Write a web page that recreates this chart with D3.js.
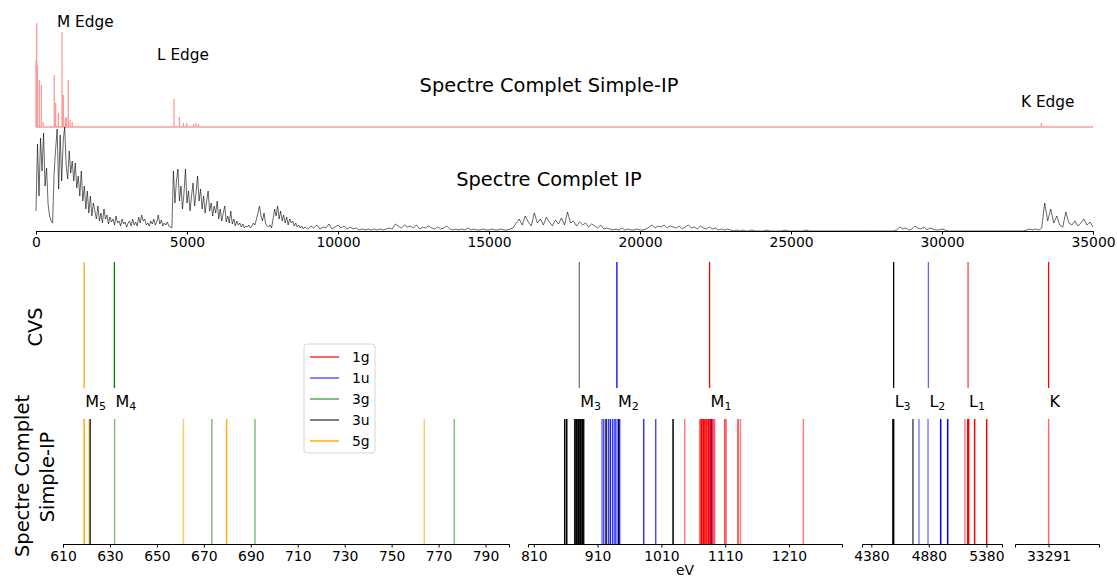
<!DOCTYPE html>
<html>
<head>
<meta charset="utf-8">
<script src="https://cdn.jsdelivr.net/npm/d3@7"></script>
<style>
  body { margin: 0; background: #fff; }
  text { font-family: "DejaVu Sans", sans-serif; fill: #000; }
  .axis text { font-family: "DejaVu Sans", sans-serif; font-size: 13.9px; }
  .axis path, .axis line { stroke: #000; stroke-width: 1; }
</style>
</head>
<body>
<svg id="chart" width="1117" height="579"></svg>
<script>
// ---- top spectra ----
var topTicks = [0, 5000, 10000, 15000, 20000, 25000, 30000, 35000];

// Simple-IP : sticks (eV, intensity)
var sipSpecEnergy = [0, 23, 45, 110, 175, 235, 605, 650, 740, 860, 905, 970, 1010, 1070, 1130, 1200,
                     4570, 4750, 4880, 4990, 5220, 5290, 5380, 33290];
var sipSpecHeight = [67, 104, 62, 47, 42, 5, 52, 24, 14, 95, 32, 9, 10, 47, 7, 5,
                     28, 10, 4, 4, 3, 4, 3, 4];

// IP spectrum, 0 -> 8950 eV every 50 eV
var ipDenseStart = 0, ipDenseStep = 50;
var ipDense = [
  20, 87, 35, 93, 60, 98, 45, 63, 27, 15,
  10, 8, 58, 82, 102, 42, 96, 50, 90, 104,
  65, 52, 80, 58, 70, 50, 68, 43, 55, 35,
  60, 30, 45, 22, 40, 18, 35, 15, 28, 20,
  12, 25, 10, 18, 8, 22, 12, 16, 7, 14,
  9, 12, 6, 15, 8, 10, 5, 12, 7, 9,
  4, 8, 10, 5, 12, 6, 9, 5, 14, 8,
  16, 10, 12, 6, 8, 5, 10, 7, 12, 6,
  9, 16, 7, 11, 5, 8, 6, 9, 5, 4,
  3, 60, 28, 50, 62, 30, 45, 22, 38, 62,
  28, 40, 20, 35, 48, 25, 38, 55, 30, 42,
  22, 35, 18, 30, 40, 20, 28, 15, 25, 18,
  30, 12, 22, 10, 18, 25, 9, 15, 8, 20,
  7, 12, 5, 10, 6, 8, 4, 7, 3, 5,
  4, 6, 3, 5, 8, 6, 12, 18, 25, 15,
  10, 18, 8, 5, 4, 6, 3, 12, 22, 15,
  25, 12, 20, 10, 16, 8, 14, 6, 12, 8,
  10, 5, 8, 4, 6, 3, 5, 2, 4, 3
];
// IP spectrum, 9000 -> 35000 eV every 100 eV
var ipSparseStart = 9000, ipSparseStep = 100;
var ipSparse = [
  2, 5, 3, 6, 2, 4, 3, 7, 2, 4,
  6, 3, 5, 2, 4, 2, 3, 1, 2, 1,
  2, 1, 2, 1, 2, 1, 2, 3, 2, 7,
  5, 3, 6, 4, 5, 3, 6, 2, 4, 3,
  5, 3, 2, 4, 2, 3, 5, 2, 1, 2,
  1, 2, 1, 3, 1, 2, 1, 1, 2, 1,
  1, 2, 1, 1, 2, 1, 1, 2, 3, 8,
  12, 6, 15, 9, 5, 18, 8, 12, 6, 14,
  9, 5, 11, 7, 13, 6, 19, 8, 10, 5,
  9, 6, 8, 4, 7, 5, 3, 6, 2, 3,
  2, 1, 2, 1, 3, 1, 2, 1, 1, 2,
  1, 1, 2, 4, 6, 3, 5, 4, 6, 3,
  5, 4, 3, 5, 2, 4, 6, 3, 4, 2,
  5, 3, 2, 4, 2, 3, 1, 2, 1, 2,
  1, 0, 1, 0, 1, 0, 0, 1, 0, 0,
  0, 0, 1, 0, 0, 0, 0, 0, 1, 0,
  0, 0, 0, 0, 0, 1, 0, 0, 0, 0,
  0, 0, 0, 0, 0, 0, 0, 0, 0, 0,
  0, 0, 0, 0, 0, 0, 0, 0, 0, 0,
  0, 0, 0, 0, 0, 1, 4, 2, 3, 1,
  2, 5, 3, 2, 4, 1, 3, 2, 1, 1,
  2, 1, 0, 0, 0, 0, 0, 0, 0, 0,
  0, 0, 0, 0, 0, 0, 0, 0, 0, 0,
  0, 0, 0, 0, 0, 0, 0, 0, 1, 2,
  1, 2, 1, 3, 28, 10, 22, 8, 15, 6,
  4, 19, 8, 6, 10, 5, 8, 12, 6, 9,
  4
];

// ---- lower panels: transitions ----
var symmetries = ["1g", "1u", "3g", "3u", "5g"];

var cvsEnergy = [619.0, 631.9, 881.4, 940.3, 1085.5, 4574, 4876, 5221, 33291];
var cvsSym    = ["5g", "3g", "3u", "1u", "1g", "3u", "1u", "1g", "1g"];
var cvsWeight = [1, 1, 0.55, 1, 1, 1, 0.6, 0.75, 1];
var edgeMain  = ["M", "M", "M", "M", "M", "L", "L", "L", "K"];
var edgeSub   = ["5", "4", "3", "2", "1", "3", "2", "1", ""];

var lineEnergy = [
  619.0, 621.1, 621.6, 632.0, 661.3, 673.4, 679.7, 691.8, 763.9, 776.7,
  858.6, 861.7, 874.2, 875.8, 877.4, 879.0, 880.5, 882.1, 883.7, 885.2, 886.8, 888.3,
  917.0, 919.7, 923.3, 927.0, 930.1, 933.8, 937.4, 940.5, 943.2, 944.7, 982.3, 1001.1, 1028.3,
  1046.6, 1070.6, 1072.7, 1074.2, 1076.3, 1077.9, 1080.0, 1081.5, 1083.6, 1085.2, 1087.3,
  1088.8, 1089.4, 1092.0, 1093.5, 1109.2, 1111.3, 1130.1, 1133.8, 1232.5,
  4568, 4574, 4742, 4794, 4873, 4983, 5044, 5194, 5218, 5226, 5278, 5383,
  33291
];
var lineSym = [
  "5g", "5g", "3u", "3g", "5g", "3g", "5g", "3g", "5g", "3g",
  "3u", "3u", "3u", "3u", "3u", "3u", "3u", "3u", "3u", "3u", "3u", "3u",
  "1u", "1u", "3u", "1u", "1u", "1u", "1u", "1u", "3u", "1u", "1u", "1u", "3u",
  "1g", "1g", "1g", "1g", "1g", "1g", "1g", "1g", "1g", "1g", "1g",
  "1u", "1g", "1g", "1g", "1g", "1g", "1g", "1g", "1g",
  "3u", "3u", "3u", "1u", "1u", "1u", "1u", "1g", "1g", "1g", "1g", "1g",
  "1g"
];
var lineWeight = [
  1, 0.6, 0.8, 0.5, 0.6, 0.5, 0.9, 0.5, 0.6, 0.5,
  1, 1, 0.9, 0.8, 1, 0.7, 1, 0.8, 1, 0.7, 1, 0.9,
  0.6, 0.7, 1, 0.8, 0.9, 0.8, 0.9, 0.6, 1, 0.7, 0.8, 0.7, 1,
  0.5, 0.8, 1, 0.7, 1, 0.8, 1, 0.7, 1, 0.8, 1,
  1, 0.8, 0.6, 0.5, 0.7, 0.6, 0.8, 0.5, 0.5,
  1, 1, 0.7, 0.5, 0.5, 1, 1, 0.5, 1, 1, 1, 1,
  0.6
];

var panelDomains = [[610, 800], [801, 1293], [4299, 5516], [33191, 33441]];
var panelTicks = [
  [610, 630, 650, 670, 690, 710, 730, 750, 770, 790],
  [810, 910, 1010, 1110, 1210],
  [4380, 4880, 5380],
  [33291]
];

// ---------------------------------------------------------------
var svg = d3.select("#chart");

var color = d3.scaleOrdinal().domain(symmetries)
    .range(["red", "blue", "green", "black", "orange"]);

// top plot
var xTop = d3.scaleLinear().domain([0, 35000]).range([36, 1093]);
var yRed = d3.scaleLinear().domain([0, 106]).range([127, 21]);
var yIP  = d3.scaleLinear().domain([0, 106]).range([231, 125]);

var ipPts = [];
ipDense.forEach(function(v, i) { ipPts.push([ipDenseStart + i * ipDenseStep, v]); });
ipSparse.forEach(function(v, i) { ipPts.push([ipSparseStart + i * ipSparseStep, v]); });

var redPts = [[0, 0]];
sipSpecEnergy.forEach(function(e, i) {
  redPts.push([e, 0], [e, sipSpecHeight[i]], [e, 0]);
});
redPts.push([35000, 0]);

svg.append("path")
    .datum(redPts)
    .attr("fill", "none")
    .attr("stroke", "red")
    .attr("stroke-opacity", 0.4)
    .attr("stroke-width", 1.3)
    .attr("d", d3.line().x(function(d) { return xTop(d[0]); }).y(function(d) { return yRed(d[1]); }));

svg.append("path")
    .datum(ipPts)
    .attr("fill", "none")
    .attr("stroke", "black")
    .attr("stroke-opacity", 0.75)
    .attr("stroke-width", 0.8)
    .attr("d", d3.line().x(function(d) { return xTop(d[0]); }).y(function(d) { return yIP(d[1]); }));

svg.append("g")
    .attr("class", "axis")
    .attr("transform", "translate(0,231)")
    .call(d3.axisBottom(xTop).tickValues(topTicks).tickFormat(d3.format("d"))
          .tickSizeOuter(0).tickSize(3.5).tickPadding(3));

var topLabels = [
  {t: "M Edge", x: 57, y: 27, s: 15.3, a: "start"},
  {t: "L Edge", x: 157, y: 60, s: 15.3, a: "start"},
  {t: "K Edge", x: 1021, y: 107, s: 15.3, a: "start"},
  {t: "Spectre Complet Simple-IP", x: 549, y: 92, s: 19.4, a: "middle"},
  {t: "Spectre Complet IP", x: 549, y: 186, s: 19.4, a: "middle"}
];
svg.selectAll("text.toplab").data(topLabels).enter().append("text")
    .attr("class", "toplab")
    .attr("x", function(d) { return d.x; })
    .attr("y", function(d) { return d.y; })
    .attr("text-anchor", function(d) { return d.a; })
    .style("font-size", function(d) { return d.s + "px"; })
    .text(function(d) { return d.t; });

// lower panels
var panelRanges = [[63, 509], [528, 842], [862, 1002], [1015, 1099]];
var cvsTop = 262, cvsBot = 388, sipTop = 419, axisY = 544;

var xs = panelDomains.map(function(dom, i) {
  return d3.scaleLinear().domain(dom).range(panelRanges[i]);
});
function panelOf(e) {
  for (var i = 0; i < panelDomains.length; i++) {
    if (e >= panelDomains[i][0] && e <= panelDomains[i][1]) return i;
  }
  return -1;
}

xs.forEach(function(x, i) {
  svg.append("g")
      .attr("class", "axis")
      .attr("transform", "translate(0," + axisY + ")")
      .call(d3.axisBottom(x).tickValues(panelTicks[i]).tickFormat(d3.format("d"))
            .tickSizeOuter(0).tickSize(3.5).tickPadding(3.5));
});

var cvsData = cvsEnergy.map(function(e, i) {
  return {e: e, sym: cvsSym[i], w: cvsWeight[i], p: panelOf(e), m: edgeMain[i], s: edgeSub[i]};
});
svg.selectAll("line.cvs").data(cvsData).enter().append("line")
    .attr("class", "cvs")
    .attr("x1", function(d) { return xs[d.p](d.e); })
    .attr("x2", function(d) { return xs[d.p](d.e); })
    .attr("y1", cvsTop).attr("y2", cvsBot)
    .attr("stroke", function(d) { return color(d.sym); })
    .attr("stroke-opacity", function(d) { return d.w; })
    .attr("stroke-width", 1.3);

var sipData = lineEnergy.map(function(e, i) {
  return {e: e, sym: lineSym[i], w: lineWeight[i], p: panelOf(e)};
});
svg.selectAll("line.sip").data(sipData).enter().append("line")
    .attr("class", "sip")
    .attr("x1", function(d) { return xs[d.p](d.e); })
    .attr("x2", function(d) { return xs[d.p](d.e); })
    .attr("y1", sipTop).attr("y2", axisY)
    .attr("stroke", function(d) { return color(d.sym); })
    .attr("stroke-opacity", function(d) { return d.w; })
    .attr("stroke-width", 1.5);

var edge = svg.selectAll("text.edge").data(cvsData).enter().append("text")
    .attr("class", "edge")
    .attr("x", function(d) { return xs[d.p](d.e) + 1; })
    .attr("y", 407)
    .style("font-size", "16px");
edge.append("tspan").text(function(d) { return d.m; });
edge.append("tspan")
    .attr("dy", 3)
    .style("font-size", "11px")
    .text(function(d) { return d.s; });

// y titles
svg.append("text")
    .attr("transform", "translate(42,327) rotate(-90)")
    .attr("text-anchor", "middle")
    .style("font-size", "19.4px")
    .text("CVS");
svg.append("text")
    .attr("transform", "translate(29,476) rotate(-90)")
    .attr("text-anchor", "middle")
    .style("font-size", "19.4px")
    .text("Spectre Complet");
svg.append("text")
    .attr("transform", "translate(54,477) rotate(-90)")
    .attr("text-anchor", "middle")
    .style("font-size", "19.4px")
    .text("Simple-IP");

svg.append("text")
    .attr("x", 685).attr("y", 575)
    .attr("text-anchor", "middle")
    .style("font-size", "13.9px")
    .text("eV");

// legend
var legendAlpha = [1, 0.5, 0.5, 0.5, 0.7];
var lg = svg.append("g").attr("transform", "translate(304,344)");
lg.append("rect")
    .attr("width", 71).attr("height", 109).attr("rx", 3)
    .attr("fill", "white").attr("fill-opacity", 0.8)
    .attr("stroke", "#d6d6d6").attr("stroke-width", 1);
var items = lg.selectAll("g.item").data(symmetries).enter().append("g")
    .attr("class", "item")
    .attr("transform", function(d, i) { return "translate(0," + (13 + i * 21) + ")"; });
items.append("line")
    .attr("x1", 6).attr("x2", 35)
    .attr("stroke", function(d) { return color(d); })
    .attr("stroke-opacity", function(d, i) { return legendAlpha[i]; })
    .attr("stroke-width", function(d, i) { return i === 0 ? 1.2 : 2; });
items.append("text")
    .attr("x", 48).attr("y", 5)
    .style("font-size", "13.9px")
    .text(function(d) { return d; });
</script>
</body>
</html>
